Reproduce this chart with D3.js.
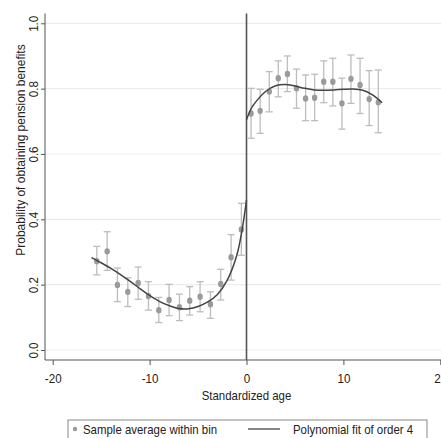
<!DOCTYPE html>
<html>
<head>
<meta charset="utf-8">
<script src="https://cdn.jsdelivr.net/npm/d3@7"></script>
<style>
  html, body { margin: 0; padding: 0; background: #fff; }
  svg { display: block; }
  text { font-family: "Liberation Sans", Arial, Helvetica, sans-serif; fill: #222; }
</style>
</head>
<body>
<svg id="chart" width="441" height="438"></svg>
<script>
// Binned sample averages with 95% intervals, left of the cutoff
const leftBinX   = [-15.45, -14.38, -13.32, -12.25, -11.18, -10.12, -9.05, -7.99, -6.92, -5.86, -4.79, -3.72, -2.66, -1.59, -0.53];
const leftMean   = [0.272, 0.302, 0.199, 0.178, 0.205, 0.165, 0.122, 0.153, 0.131, 0.151, 0.163, 0.140, 0.202, 0.284, 0.369];
const leftLower  = [0.230, 0.244, 0.148, 0.133, 0.155, 0.122, 0.084, 0.105, 0.090, 0.107, 0.117, 0.097, 0.153, 0.214, 0.290];
const leftUpper  = [0.317, 0.362, 0.251, 0.221, 0.254, 0.209, 0.161, 0.201, 0.171, 0.194, 0.209, 0.178, 0.247, 0.353, 0.449];

// Binned sample averages with 95% intervals, right of the cutoff
const rightBinX  = [0.47, 1.41, 2.35, 3.28, 4.22, 5.16, 6.10, 7.03, 7.97, 8.91, 9.85, 10.78, 11.72, 12.66, 13.60];
const rightMean  = [0.724, 0.732, 0.791, 0.832, 0.845, 0.801, 0.770, 0.772, 0.821, 0.821, 0.755, 0.830, 0.811, 0.768, 0.758];
const rightLower = [0.648, 0.663, 0.729, 0.775, 0.791, 0.740, 0.702, 0.702, 0.757, 0.747, 0.676, 0.755, 0.724, 0.687, 0.665];
const rightUpper = [0.801, 0.798, 0.852, 0.885, 0.900, 0.860, 0.842, 0.844, 0.885, 0.893, 0.832, 0.903, 0.893, 0.855, 0.857];

// Fourth-order polynomial fits on each side of the cutoff
const leftFitX   = [-16, -15, -14, -13, -12, -11, -10, -9, -8, -7, -6, -5, -4, -3, -2, -1, -0.5, 0];
const leftFitY   = [0.283, 0.267, 0.250, 0.231, 0.210, 0.188, 0.167, 0.149, 0.136, 0.127, 0.126, 0.133, 0.147, 0.170, 0.213, 0.290, 0.360, 0.459];
const rightFitX  = [0, 0.5, 1, 2, 3, 4, 5, 6, 7, 8, 9, 10, 11, 12, 13, 14];
const rightFitY  = [0.705, 0.740, 0.761, 0.792, 0.809, 0.813, 0.808, 0.801, 0.796, 0.795, 0.796, 0.798, 0.799, 0.795, 0.781, 0.757];

// Axis ticks and labels
const xTicks = [-20, -10, 0, 10, 20];
const yTicks = [0, 0.2, 0.4, 0.6, 0.8, 1.0];
const xTitle = "Standardized age";
const yTitle = "Probability of obtaining pension benefits";
const legendLabels = ["Sample average within bin", "Polynomial fit of order 4"];

const svg = d3.select("#chart");
const axisX0 = 45, axisY0 = 360;

const x = d3.scaleLinear().domain([-20, 20]).range([52.7, 440.3]);
const y = d3.scaleLinear().domain([-0.03, 1.03]).range([359.8, 13.5]);

// Horizontal grid lines
svg.append("g").selectAll("line").data(yTicks).join("line")
  .attr("x1", axisX0).attr("x2", 441)
  .attr("y1", d => y(d)).attr("y2", d => y(d))
  .attr("stroke", "#ececec").attr("stroke-width", 1.2);

// Cutoff line at zero
svg.append("line")
  .attr("x1", x(0)).attr("x2", x(0))
  .attr("y1", y(1.03)).attr("y2", axisY0)
  .attr("stroke", "#555").attr("stroke-width", 1.6);

// Axes
const gx = svg.append("g").attr("transform", `translate(0,${axisY0})`)
  .call(d3.axisBottom(x).tickValues(xTicks).tickSize(5).tickFormat(d3.format("d")));
gx.select(".domain").remove();
gx.selectAll(".tick line").attr("stroke", "#555");
gx.selectAll(".tick text")
  .attr("y", 0).attr("dy", 0)
  .attr("transform", "translate(0,23) scale(0.86,1)")
  .attr("font-size", 13.5).style("fill", "#222")
  .text(d => d < 0 ? "-" + Math.abs(d) : d);

const gy = svg.append("g").attr("transform", `translate(${axisX0},0)`)
  .call(d3.axisLeft(y).tickValues(yTicks).tickSize(4).tickFormat(d3.format(".1f")));
gy.select(".domain").remove();
gy.selectAll(".tick line").attr("stroke", "#555");
gy.selectAll(".tick text")
  .attr("x", 0).attr("dy", 0)
  .attr("text-anchor", "middle")
  .attr("transform", "translate(-7,0) rotate(-90) scale(0.86,1)")
  .attr("font-size", 13.5).style("fill", "#222");

svg.append("line").attr("x1", axisX0).attr("x2", 441).attr("y1", axisY0).attr("y2", axisY0)
  .attr("stroke", "#555").attr("stroke-width", 1);
svg.append("line").attr("x1", axisX0).attr("x2", axisX0).attr("y1", y(1.03)).attr("y2", axisY0)
  .attr("stroke", "#555").attr("stroke-width", 1);

// Axis titles
svg.append("text")
  .attr("transform", `translate(${x(0)},400) scale(0.88,1)`)
  .attr("text-anchor", "middle").attr("font-size", 13)
  .text(xTitle);
svg.append("text")
  .attr("transform", `translate(25,150) rotate(-90) scale(0.92,1)`)
  .attr("text-anchor", "middle").attr("font-size", 13)
  .text(yTitle);

// Bins: error bars and markers
function drawBins(xs, mean, lo, hi) {
  const rows = xs.map((v, i) => ({ x: v, m: mean[i], lo: lo[i], hi: hi[i] }));
  const g = svg.append("g");
  const capW = 3.5;
  const eb = g.selectAll("g.eb").data(rows).join("g").attr("class", "eb")
    .attr("stroke", "#bdbdbd").attr("stroke-width", 1.3);
  eb.append("line").attr("x1", d => x(d.x)).attr("x2", d => x(d.x))
    .attr("y1", d => y(d.lo)).attr("y2", d => y(d.hi));
  eb.append("line").attr("x1", d => x(d.x) - capW).attr("x2", d => x(d.x) + capW)
    .attr("y1", d => y(d.lo)).attr("y2", d => y(d.lo));
  eb.append("line").attr("x1", d => x(d.x) - capW).attr("x2", d => x(d.x) + capW)
    .attr("y1", d => y(d.hi)).attr("y2", d => y(d.hi));
  g.selectAll("ellipse").data(rows).join("ellipse")
    .attr("cx", d => x(d.x)).attr("cy", d => y(d.m))
    .attr("rx", 2.7).attr("ry", 3.2)
    .attr("fill", "#9a9a9a");
}
drawBins(leftBinX, leftMean, leftLower, leftUpper);
drawBins(rightBinX, rightMean, rightLower, rightUpper);

// Polynomial fit curves
const line = d3.line().x(d => x(d[0])).y(d => y(d[1])).curve(d3.curveCatmullRom.alpha(0.5));
[[leftFitX, leftFitY], [rightFitX, rightFitY]].forEach(([xs, ys]) => {
  svg.append("path")
    .datum(xs.map((v, i) => [v, ys[i]]))
    .attr("d", line)
    .attr("fill", "none").attr("stroke", "#444").attr("stroke-width", 1.5);
});

// Legend
const lg = svg.append("g");
lg.append("rect").attr("x", 68).attr("y", 420).attr("width", 359).attr("height", 30)
  .attr("fill", "#fff").attr("stroke", "#888").attr("stroke-width", 1);
lg.append("circle").attr("cx", 75).attr("cy", 429).attr("r", 2.2).attr("fill", "#9a9a9a");
lg.append("text").attr("transform", "translate(83,434) scale(0.88,1)")
  .attr("font-size", 13).text(legendLabels[0]);
lg.append("line").attr("x1", 248).attr("x2", 280).attr("y1", 429).attr("y2", 429)
  .attr("stroke", "#444").attr("stroke-width", 1.3);
lg.append("text").attr("transform", "translate(293,434) scale(0.88,1)")
  .attr("font-size", 13).text(legendLabels[1]);
</script>
</body>
</html>
